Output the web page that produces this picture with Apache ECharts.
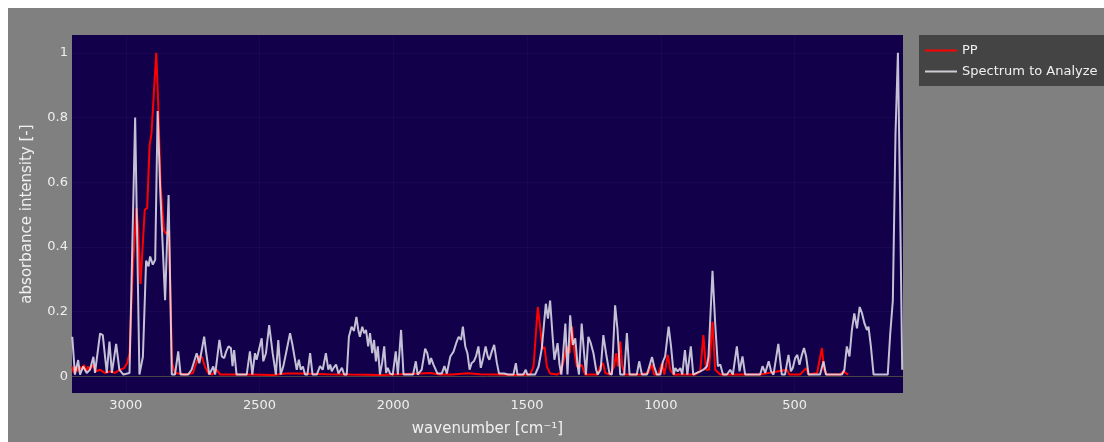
<!DOCTYPE html>
<html><head><meta charset="utf-8">
<script src="https://cdn.jsdelivr.net/npm/echarts@6/dist/echarts.min.js"></script>
<style>html,body{margin:0;padding:0;background:#fff;overflow:hidden}
#c{position:absolute;left:8px;top:8px;width:1096px;height:434px;background:#808080}</style>
</head><body><div id="c"></div><script>
const xTicks = [500, 1000, 1500, 2000, 2500, 3000];
const yTicks = [0, 0.2, 0.4, 0.6, 0.8, 1];
const seriesNames = ['PP', 'Spectrum to Analyze'];

const ppWave = [3200,3194,3186,3179,3171,3164,3156,3149,3141,3134,3122,3111,3096,3078,3059,3040,3021,3006,2995,2986,2974,2960,2954,2945,2939,2929,2920,2911,2904,2898,2886,2879,2870,2857,2849,2839,2827,2816,2779,2749,2737,2726,2715,2704,2692,2677,2660,2647,2536,2450,2400,2349,2250,2162,2050,1975,1900,1862,1825,1780,1720,1676,1601,1550,1489,1476,1460,1451,1443,1435,1426,1414,1389,1376,1364,1351,1341,1332,1324,1314,1305,1296,1283,1238,1227,1216,1208,1190,1175,1167,1160,1152,1144,1134,1077,1047,1033,1025,1010,996,987,974,965,952,872,853,841,831,820,807,797,778,629,529,520,480,457,448,416,398,390,380,330,317,300];
const ppAbs = [0.03,0.01,0.03,0.015,0.03,0.02,0.035,0.015,0.03,0.02,0.035,0.015,0.02,0.01,0.015,0.01,0.02,0.025,0.04,0.07,0.33,0.52,0.46,0.285,0.28,0.515,0.52,0.713,0.75,0.75,1.0,0.846,0.59,0.45,0.44,0.45,0.04,0.01,0.005,0.01,0.04,0.062,0.058,0.03,0.01,0.005,0.02,0.005,0.005,0.004,0.008,0.008,0.006,0.005,0.004,0.006,0.008,0.01,0.005,0.005,0.009,0.006,0.005,0.004,0.005,0.03,0.214,0.15,0.086,0.09,0.03,0.008,0.005,0.01,0.045,0.092,0.071,0.153,0.08,0.03,0.03,0.035,0.005,0.005,0.03,0.04,0.01,0.005,0.03,0.071,0.03,0.107,0.03,0.005,0.005,0.01,0.036,0.005,0.005,0.04,0.005,0.066,0.02,0.005,0.005,0.015,0.127,0.02,0.02,0.168,0.02,0.005,0.005,0.02,0.005,0.005,0.025,0.005,0.01,0.087,0.02,0.005,0.005,0.015,0.005];

const specWave = [3200,3190,3178,3171,3159,3146,3134,3121,3115,3096,3086,3071,3061,3052,3036,3024,3009,2986,2965,2949,2936,2924,2915,2909,2899,2890,2881,2871,2865,2853,2846,2840,2828,2816,2804,2795,2767,2754,2735,2725,2707,2700,2695,2688,2673,2666,2650,2641,2632,2625,2616,2607,2601,2595,2586,2548,2536,2527,2517,2511,2492,2486,2476,2464,2451,2439,2430,2421,2411,2401,2386,2377,2370,2361,2353,2346,2338,2330,2321,2311,2302,2286,2274,2264,2252,2243,2236,2230,2224,2214,2205,2192,2184,2174,2166,2156,2147,2138,2131,2125,2116,2109,2102,2094,2087,2079,2072,2065,2058,2050,2042,2034,2027,2021,2012,2002,1991,1983,1971,1962,1926,1916,1909,1894,1881,1873,1865,1859,1850,1844,1835,1819,1809,1800,1787,1775,1765,1756,1747,1740,1731,1723,1715,1707,1699,1691,1682,1673,1664,1655,1647,1641,1632,1623,1613,1605,1586,1579,1571,1551,1542,1536,1514,1505,1499,1470,1457,1445,1439,1430,1422,1414,1405,1398,1386,1379,1372,1366,1357,1349,1339,1329,1320,1311,1306,1296,1287,1280,1271,1262,1252,1242,1236,1225,1215,1205,1192,1183,1171,1162,1152,1137,1127,1117,1090,1081,1071,1052,1033,1025,1015,1002,992,984,971,962,952,946,937,927,920,910,901,888,879,866,853,841,828,822,807,797,787,778,768,753,741,731,716,706,695,685,629,620,610,597,588,579,561,548,536,523,514,507,498,490,482,473,465,457,448,436,430,420,405,392,383,323,314,305,295,286,277,267,257,248,239,230,224,215,205,152,143,133,123,114,106,98];
const specAbs = [0.122,0.005,0.05,0.005,0.03,0.01,0.02,0.06,0.01,0.132,0.127,0.01,0.107,0.01,0.1,0.02,0.005,0.01,0.8,0.005,0.06,0.357,0.34,0.37,0.345,0.36,0.82,0.57,0.565,0.235,0.23,0.56,0.005,0.005,0.077,0.005,0.005,0.02,0.071,0.04,0.122,0.076,0.08,0.005,0.03,0.005,0.112,0.061,0.056,0.076,0.092,0.087,0.031,0.081,0.005,0.005,0.077,0.005,0.071,0.051,0.117,0.046,0.071,0.158,0.071,0.005,0.112,0.005,0.031,0.071,0.133,0.097,0.102,0.02,0.051,0.02,0.03,0.005,0.005,0.071,0.005,0.005,0.031,0.02,0.071,0.02,0.036,0.015,0.025,0.036,0.008,0.026,0.005,0.005,0.122,0.153,0.14,0.183,0.143,0.122,0.153,0.133,0.143,0.092,0.133,0.071,0.112,0.046,0.092,0.005,0.041,0.092,0.01,0.026,0.008,0.005,0.077,0.005,0.143,0.005,0.005,0.046,0.005,0.02,0.085,0.071,0.036,0.056,0.036,0.031,0.008,0.008,0.031,0.008,0.061,0.076,0.102,0.122,0.112,0.153,0.092,0.071,0.02,0.041,0.046,0.061,0.092,0.026,0.056,0.092,0.061,0.051,0.076,0.097,0.041,0.008,0.008,0.012,0.005,0.005,0.04,0.005,0.005,0.02,0.005,0.005,0.03,0.086,0.092,0.224,0.178,0.234,0.127,0.051,0.102,0.036,0.005,0.061,0.163,0.005,0.188,0.097,0.117,0.031,0.005,0.163,0.071,0.005,0.122,0.102,0.071,0.02,0.005,0.02,0.127,0.071,0.008,0.005,0.219,0.143,0.005,0.005,0.133,0.005,0.005,0.046,0.005,0.005,0.059,0.03,0.005,0.005,0.046,0.061,0.153,0.092,0.005,0.025,0.015,0.025,0.005,0.081,0.005,0.092,0.005,0.01,0.015,0.02,0.03,0.06,0.326,0.163,0.031,0.036,0.005,0.005,0.02,0.005,0.092,0.015,0.061,0.005,0.005,0.031,0.01,0.046,0.015,0.005,0.1,0.005,0.005,0.066,0.015,0.025,0.056,0.066,0.035,0.066,0.087,0.061,0.005,0.005,0.01,0.005,0.005,0.046,0.005,0.005,0.02,0.092,0.061,0.143,0.194,0.148,0.214,0.194,0.163,0.143,0.153,0.092,0.005,0.005,0.128,0.234,0.75,1.0,0.55,0.02];

const FONT = 'DejaVu Sans';
const chart = echarts.init(document.getElementById('c'), null, {renderer: 'canvas'});
chart.setOption({
  animation: false,
  backgroundColor: '#808080',
  grid: {left: 64, top: 27, right: 201, bottom: 45, show: true, backgroundColor: '#12004a', borderWidth: 0},
  legend: {
    orient: 'vertical', left: 911, top: 27,
    backgroundColor: '#444444', borderWidth: 0,
    padding: [9, 12, 8, 6],
    icon: 'path://M0,0H32V2H0Z',
    itemWidth: 32, itemHeight: 2, itemGap: 8,
    textStyle: {color: '#f0f0f0', fontSize: 13, fontFamily: FONT},
    data: seriesNames
  },
  xAxis: {
    type: 'value', inverse: true, min: 95, max: 3201,
    name: 'wavenumber [cm⁻¹]', nameLocation: 'middle', nameGap: 29,
    nameTextStyle: {color: '#f0f0f0', fontSize: 15, fontFamily: FONT},
    axisLine: {show: false}, axisTick: {show: false, customValues: xTicks},
    axisLabel: {customValues: xTicks, color: '#eeeeee', fontSize: 13, fontFamily: FONT, margin: 6, formatter: v => String(v)},
    splitLine: {show: true, lineStyle: {color: 'rgba(255,255,255,0.03)', width: 1}}
  },
  yAxis: {
    type: 'value', min: -0.052, max: 1.055,
    name: 'absorbance intensity [-]', nameLocation: 'middle', nameGap: 37, nameRotate: 90,
    nameTextStyle: {color: '#f0f0f0', fontSize: 15, fontFamily: FONT},
    axisLine: {show: false}, axisTick: {show: false, customValues: yTicks},
    axisLabel: {customValues: yTicks, color: '#eeeeee', fontSize: 13, fontFamily: FONT, margin: 4, formatter: v => String(+v.toFixed(1))},
    splitLine: {show: true, lineStyle: {color: 'rgba(255,255,255,0.03)', width: 1}}
  },
  series: [
    {
      name: seriesNames[0], type: 'line', symbol: 'none', showSymbol: false,
      data: ppWave.map((w, i) => [w, ppAbs[i]]),
      lineStyle: {color: '#ff0000', width: 2}, itemStyle: {color: '#ff0000'},
      z: 2,
      markLine: {silent: true, symbol: 'none', z: 1, label: {show: false},
        lineStyle: {color: '#444444', width: 1, type: 'solid'}, data: [{yAxis: 0}]}
    },
    {
      name: seriesNames[1], type: 'line', symbol: 'none', showSymbol: false,
      data: specWave.map((w, i) => [w, specAbs[i]]),
      lineStyle: {color: 'rgba(235,235,245,0.82)', width: 2}, itemStyle: {color: 'rgba(235,235,245,0.82)'},
      z: 3
    }
  ]
});
</script></body></html>
